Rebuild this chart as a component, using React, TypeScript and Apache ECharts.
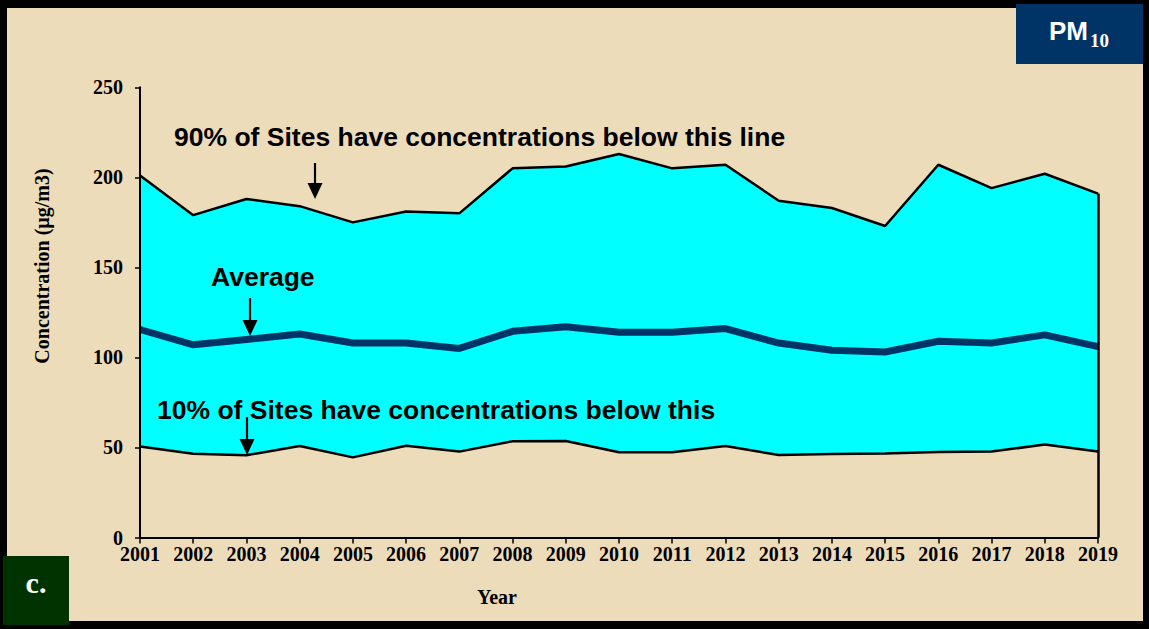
import React, { useEffect, useRef } from "react";
import * as echarts from "echarts";

const years = ["2001","2002","2003","2004","2005","2006","2007","2008","2009","2010","2011","2012","2013","2014","2015","2016","2017","2018","2019"];
const p90 = [201, 179, 188, 184, 175, 181, 180, 205, 206, 213, 205, 207, 187, 183, 173, 207, 194, 202, 191];
const average = [115.5, 107, 110, 113, 108, 108, 105, 114.5, 117, 114, 114, 116, 108, 104, 103, 109, 108, 112.5, 106];
const p10 = [50.5, 46.5, 45.7, 50.8, 44.5, 51, 47.7, 53.5, 53.6, 47.3, 47.3, 50.8, 45.8, 46.4, 46.6, 47.5, 47.7, 51.6, 47.7];
const yTicks = [0, 50, 100, 150, 200, 250];

const PARCH = "#eddcba";
const SERIF = "'Liberation Serif', 'Times New Roman', serif";
const SANS = "'Liberation Sans', Arial, sans-serif";

function arrow(x: number, y0: number, y1: number) {
  const head = 16;
  return [
    { type: "line", z: 100, shape: { x1: x, y1: y0, x2: x, y2: y1 - head + 2 }, style: { stroke: "#000", lineWidth: 2.2 } },
    { type: "polygon", z: 100, shape: { points: [[x - 7.5, y1 - head], [x + 7.5, y1 - head], [x, y1]] }, style: { fill: "#000" } },
  ];
}

export default function App() {
  const ref = useRef<HTMLDivElement>(null);
  useEffect(() => {
    if (!ref.current) return;
    const chart = echarts.init(ref.current, undefined, { renderer: "svg" });
    const option: any = {
      animation: false,
      backgroundColor: "#000",
      grid: { left: 140, right: 51, top: 87.3, bottom: 91.5, containLabel: false },
      xAxis: {
        type: "category",
        data: years,
        boundaryGap: false,
        z: 10,
        axisLine: { lineStyle: { color: "#000", width: 2 } },
        axisTick: { show: true, length: 6, lineStyle: { color: "#000", width: 1.5 } },
        axisLabel: { color: "#000", fontFamily: SERIF, fontWeight: "bold", fontSize: 20, lineHeight: 14, margin: 9 },
        splitLine: { show: false },
      },
      yAxis: {
        type: "value",
        min: yTicks[0],
        max: yTicks[yTicks.length - 1],
        interval: 50,
        z: 10,
        axisLine: { show: true, lineStyle: { color: "#000", width: 2 } },
        axisTick: { show: true, length: 5, lineStyle: { color: "#000", width: 1.5 } },
        axisLabel: { color: "#000", fontFamily: SERIF, fontWeight: "bold", fontSize: 20, lineHeight: 14, margin: 17 },
        splitLine: { show: false },
      },
      graphic: [
        { type: "rect", z: -10, shape: { x: 7, y: 8, width: 1136, height: 613 }, style: { fill: PARCH } },
        { type: "rect", z: 100, shape: { x: 1016, y: 4, width: 127, height: 60 }, style: { fill: "#003366" } },
        { type: "text", z: 101, x: 1049, y: 31, style: { text: "PM", fill: "#fff", font: `bold 26px ${SANS}`, align: "left", verticalAlign: "middle" } },
        { type: "text", z: 101, x: 1090, y: 40, style: { text: "10", fill: "#fff", font: `bold 19px ${SERIF}`, align: "left", verticalAlign: "middle" } },
        { type: "rect", z: 100, shape: { x: 3, y: 556, width: 66, height: 69 }, style: { fill: "#003300" } },
        { type: "text", z: 101, x: 36, y: 582, style: { text: "c.", fill: "#fff", font: `bold 30px ${SERIF}`, align: "center", verticalAlign: "middle" } },
        { type: "text", z: 100, x: 497, y: 597, style: { text: "Year", fill: "#000", font: `bold 20px ${SERIF}`, align: "center", verticalAlign: "middle" } },
        { type: "text", z: 100, x: 42, y: 266, rotation: Math.PI / 2, style: { text: "Concentration (µg/m3)", fill: "#000", font: `bold 20px ${SERIF}`, align: "center", verticalAlign: "middle" } },
        { type: "text", z: 100, x: 174, y: 137, style: { text: "90% of Sites have concentrations below this line", fill: "#000", font: `bold 26.5px ${SANS}`, align: "left", verticalAlign: "middle" } },
        { type: "text", z: 100, x: 211, y: 277, style: { text: "Average", fill: "#000", font: `bold 26.5px ${SANS}`, align: "left", verticalAlign: "middle" } },
        { type: "text", z: 100, x: 157, y: 410, style: { text: "10% of Sites have concentrations below this", fill: "#000", font: `bold 26.5px ${SANS}`, align: "left", verticalAlign: "middle" } },
        ...arrow(315, 163, 199),
        ...arrow(250, 298, 336),
        ...arrow(247, 417, 455),
      ],
      series: [
        {
          name: "90th percentile",
          type: "line",
          data: p90,
          showSymbol: false,
          lineStyle: { color: "#000", width: 2.5 },
          areaStyle: { color: "#00ffff", opacity: 1 },
          markLine: {
            silent: true,
            symbol: ["none", "none"],
            label: { show: false },
            lineStyle: { color: "#000", width: 2.5, type: "solid" },
            data: [[{ coord: [years[years.length - 1], 0] }, { coord: [years[years.length - 1], p90[p90.length - 1]] }]],
          },
        },
        {
          name: "10th percentile",
          type: "line",
          data: p10,
          showSymbol: false,
          lineStyle: { color: "#000", width: 2.5 },
          areaStyle: { color: PARCH, opacity: 1 },
        },
        {
          name: "Average",
          type: "line",
          data: average,
          showSymbol: false,
          lineStyle: { color: "#003366", width: 7 },
        },
      ],
    };
    chart.setOption(option);
    return () => chart.dispose();
  }, []);
  return <div ref={ref} style={{ position: "fixed", left: 0, top: 0, width: 1149, height: 629 }} />;
}
